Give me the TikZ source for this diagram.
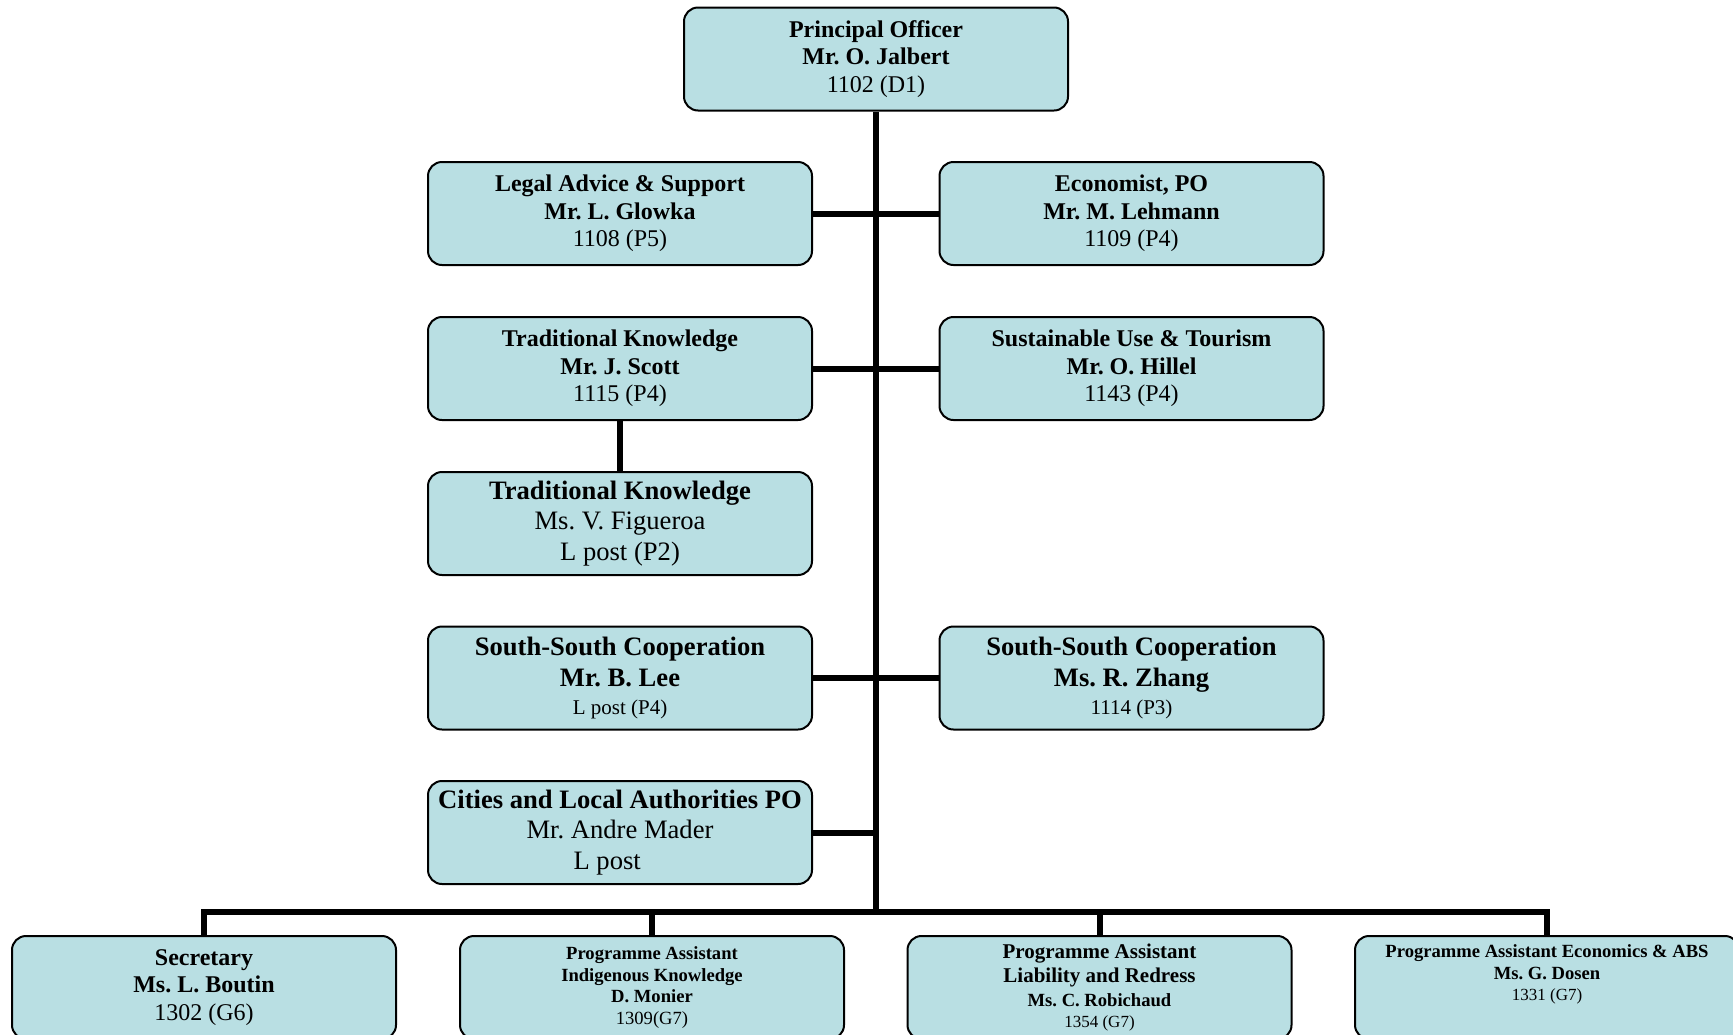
\documentclass[tikz,border=0pt]{standalone}
\usepackage{fontspec}
\setmainfont{Liberation Serif}
\usepackage{xcolor}
\definecolor{unitfill}{RGB}{185,223,227}
\newcommand{\unitfont}{\fontsize{12}{13.8}\selectfont}
\newcommand{\wideunitfont}{\fontsize{13.3}{15.3}\selectfont}
\newcommand{\gradefont}{\fontsize{10.5}{12}\selectfont}
\newcommand{\assistfont}{\fontsize{9.3}{10.7}\selectfont}
\newcommand{\codefont}{\fontsize{8.5}{9.8}\selectfont}
\frenchspacing

\begin{document}
\begin{tikzpicture}[x=0.5pt,y=-0.5pt,
	unit/.style={draw,fill=unitfill,line width=1pt,rounded corners=7pt,align=center,inner sep=2pt,minimum width=192pt,minimum height=51.5pt},
	link/.style={line width=3pt}]
	\useasboundingbox (0,0) rectangle (1733,1034);
	\clip (0,0) rectangle (1733,1034);
	\node[unit,font=\unitfont] at (876,59) (po) {\textbf{Principal Officer}\\\textbf{Mr. O. Jalbert}\\1102 (D1)};
	\node[unit,font=\unitfont] at (620,213.5) (legal) {\textbf{Legal Advice \& Support}\\\textbf{Mr. L. Glowka}\\1108 (P5)};
	\node[unit,font=\unitfont] at (1131.5,213.5) (econ) {\textbf{Economist, PO}\\\textbf{Mr. M. Lehmann}\\1109 (P4)};
	\node[unit,font=\unitfont] at (620,368.5) (tk) {\textbf{Traditional Knowledge}\\\textbf{Mr. J. Scott}\\1115 (P4)};
	\node[unit,font=\unitfont] at (1131.5,368.5) (sut) {\textbf{Sustainable Use \& Tourism}\\\textbf{Mr. O. Hillel}\\1143 (P4)};
	\node[unit,font=\wideunitfont] at (620,523.5) (tkl) {\textbf{Traditional Knowledge}\\Ms. V. Figueroa\\L post (P2)};
	\node[unit,font=\wideunitfont] at (620,678) (ssl) {\textbf{South-South Cooperation}\\\textbf{Mr. B. Lee}\\[-1.5pt]{\gradefont L post (P4)}};
	\node[unit,font=\wideunitfont] at (1131.5,678) (ssz) {\textbf{South-South Cooperation}\\\textbf{Ms. R. Zhang}\\[-1.5pt]{\gradefont 1114 (P3)}};
	\node[unit,font=\wideunitfont] at (620,832.5) (cities) {\textbf{Cities and Local Authorities PO}\\Mr. Andre Mader\\L post\hspace*{12.8pt}};
	\coordinate (bus) at (875,912);
	\node[unit,font=\unitfont] at (204,987.5) (sec) {\textbf{Secretary}\\\textbf{Ms. L. Boutin}\\1302 (G6)};
	\node[unit,font=\assistfont] at (652,987.5) (ik) {\textbf{Programme Assistant}\\\textbf{Indigenous Knowledge}\\\textbf{D. Monier}\\1309(G7)};
	\node[unit,font=\gradefont] at (1099.5,987.5) (lr) {\textbf{Programme Assistant}\\\textbf{Liability and Redress}\\{\assistfont\textbf{Ms. C. Robichaud}}\\[-1.5pt]{\codefont 1354 (G7)}};
	\node[unit,font=\assistfont] at (1547,987.5) (abs) {\textbf{Programme Assistant Economics \& ABS}\\\textbf{Ms. G. Dosen}\\{\codefont 1331 (G7)}\\[4pt]\mbox{}};
	% reporting lines
	\draw[link] (po.south) -- (po.south |- bus);
	\draw[link] (legal.east) -- (econ.west);
	\draw[link] (tk.east) -- (sut.west);
	\draw[link] (tk.south) -- (tkl.north);
	\draw[link] (ssl.east) -- (ssz.west);
	\draw[link] (cities.east) -- (cities.east -| po.south);
	\draw[link] (sec.north) -- (sec.north |- bus) -- (abs.north |- bus) -- (abs.north);
	\draw[link] (ik.north) -- (ik.north |- bus);
	\draw[link] (lr.north) -- (lr.north |- bus);
\end{tikzpicture}
\end{document}
